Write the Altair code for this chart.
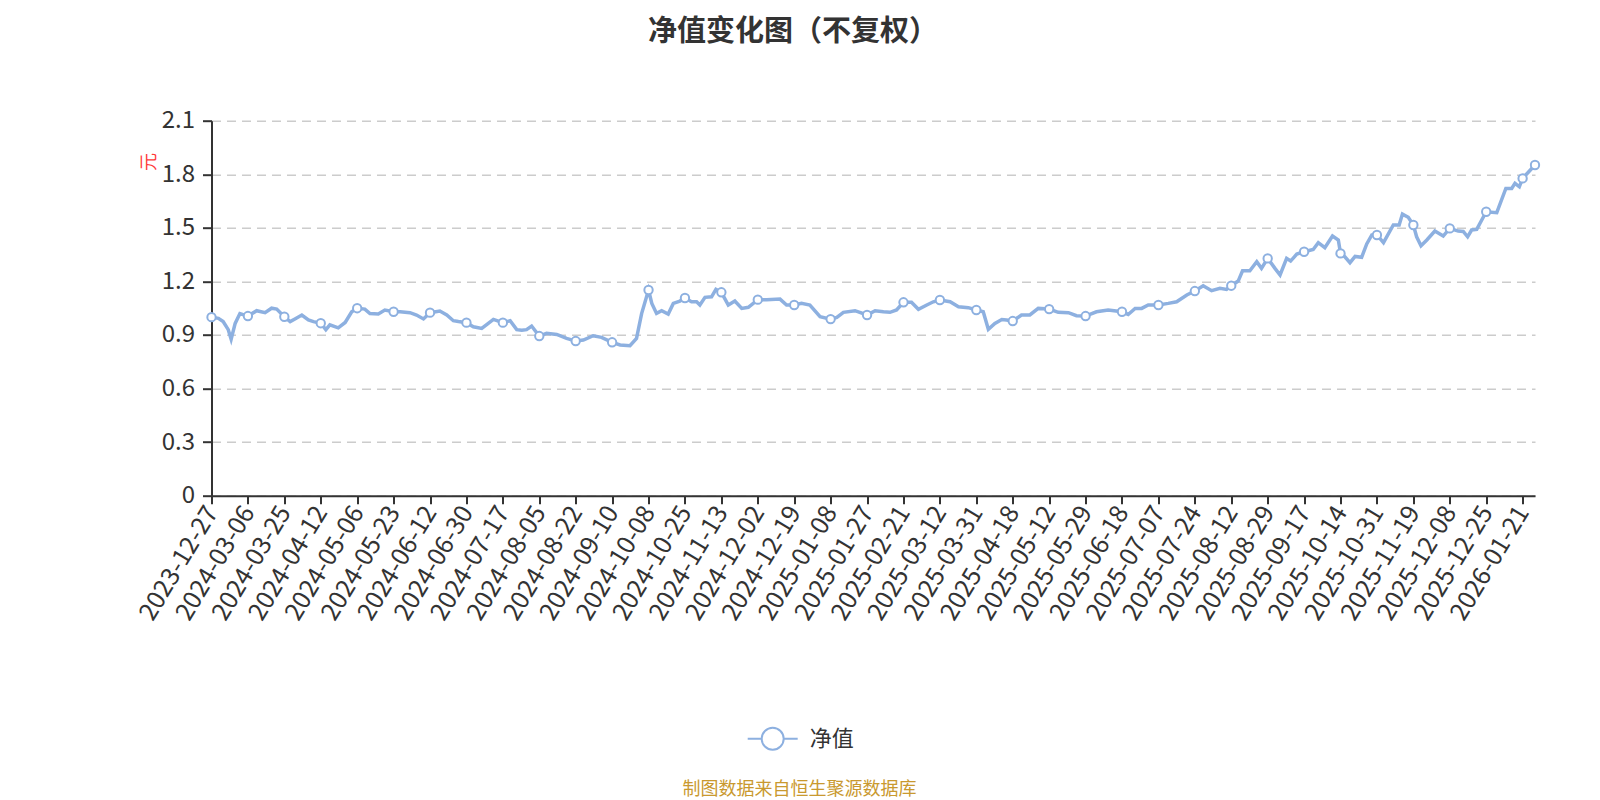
import altair as alt
import pandas as pd

FONT = "Noto Sans CJK SC"
BLUE = "#8db0e0"

date_labels = ["2023-12-27", "2024-03-06", "2024-03-25", "2024-04-12", "2024-05-06", "2024-05-23",
               "2024-06-12", "2024-06-30", "2024-07-17", "2024-08-05", "2024-08-22", "2024-09-10",
               "2024-10-08", "2024-10-25", "2024-11-13", "2024-12-02", "2024-12-19", "2025-01-08",
               "2025-01-27", "2025-02-21", "2025-03-12", "2025-03-31", "2025-04-18", "2025-05-12",
               "2025-05-29", "2025-06-18", "2025-07-07", "2025-07-24", "2025-08-12", "2025-08-29",
               "2025-09-17", "2025-10-14", "2025-10-31", "2025-11-19", "2025-12-08", "2025-12-25",
               "2026-01-21"]

# position along the category axis, in units of label intervals
pos = [0, 0.19, 0.32, 0.46, 0.54, 0.65, 0.78, 1, 1.24, 1.47, 1.65, 1.79, 2, 2.16, 2.29, 2.48, 2.66, 2.8,
       3, 3.14, 3.25, 3.48, 3.67, 3.85, 4, 4.21, 4.35, 4.58, 4.76, 5, 5.18, 5.45, 5.63, 5.82, 6, 6.27,
       6.46, 6.64, 6.78, 7, 7.19, 7.42, 7.6, 7.74, 8, 8.2, 8.38, 8.52, 8.65, 8.79, 9, 9.2, 9.48, 9.75,
       10, 10.21, 10.48, 10.71, 11, 11.22, 11.49, 11.67, 11.81, 12, 12.09, 12.22, 12.36, 12.54, 12.68,
       12.86, 13, 13.18, 13.32, 13.41, 13.55, 13.73, 13.85, 14, 14.19, 14.37, 14.56, 14.74, 15, 15.24,
       15.61, 15.79, 16, 16.2, 16.43, 16.71, 17, 17.17, 17.35, 17.67, 18, 18.22, 18.45, 18.63, 18.81,
       19, 19.22, 19.41, 19.64, 19.82, 20, 20.28, 20.51, 20.78, 21, 21.19, 21.33, 21.51, 21.7, 21.83,
       22, 22.24, 22.47, 22.7, 23, 23.25, 23.53, 23.75, 24, 24.3, 24.62, 25, 25.17, 25.36, 25.54,
       25.72, 26, 26.27, 26.5, 26.78, 27, 27.23, 27.46, 27.69, 27.87, 28, 28.19, 28.31, 28.51, 28.7,
       28.83, 29, 29.2, 29.34, 29.52, 29.63, 29.8, 30, 30.25, 30.39, 30.57, 30.78, 30.94, 31, 31.12,
       31.26, 31.4, 31.58, 31.72, 31.86, 32, 32.18, 32.45, 32.61, 32.7, 32.86, 33, 33.09, 33.21,
       33.37, 33.59, 33.82, 34, 34.23, 34.37, 34.49, 34.6, 34.74, 35, 35.29, 35.54, 35.7, 35.79,
       35.91, 36, 36.34]

nav = [1.00, 0.993, 0.975, 0.93, 0.876, 0.965, 1.02, 1.006, 1.036, 1.025, 1.05, 1.045, 1.002, 0.975,
       0.99, 1.012, 0.984, 0.975, 0.966, 0.93, 0.957, 0.94, 0.97, 1.03, 1.05, 1.045, 1.02, 1.018,
       1.04, 1.03, 1.03, 1.025, 1.012, 0.99, 1.025, 1.034, 1.012, 0.98, 0.975, 0.969, 0.946, 0.937,
       0.965, 0.987, 0.969, 0.98, 0.93, 0.927, 0.93, 0.95, 0.894, 0.909, 0.903, 0.881, 0.866, 0.872,
       0.896, 0.887, 0.859, 0.844, 0.84, 0.881, 1.02, 1.152, 1.077, 1.021, 1.036, 1.017, 1.077, 1.09,
       1.107, 1.086, 1.086, 1.068, 1.111, 1.114, 1.156, 1.139, 1.068, 1.09, 1.049, 1.055, 1.098, 1.098,
       1.101, 1.068, 1.068, 1.077, 1.068, 1.003, 0.989, 0.998, 1.027, 1.036, 1.012, 1.036, 1.03, 1.027,
       1.04, 1.083, 1.083, 1.044, 1.068, 1.086, 1.096, 1.086, 1.058, 1.053, 1.04, 1.03, 0.932, 0.965,
       0.987, 0.984, 0.978, 1.012, 1.012, 1.049, 1.045, 1.027, 1.025, 1.008, 1.006, 1.03, 1.04, 1.03,
       1.015, 1.049, 1.049, 1.068, 1.068, 1.077, 1.086, 1.124, 1.146, 1.176, 1.148, 1.161, 1.155, 1.176,
       1.202, 1.26, 1.26, 1.31, 1.273, 1.329, 1.273, 1.236, 1.329, 1.314, 1.353, 1.366, 1.379, 1.417,
       1.389, 1.454, 1.432, 1.357, 1.338, 1.305, 1.34, 1.335, 1.41, 1.46, 1.46, 1.417, 1.516, 1.516,
       1.577, 1.559, 1.516, 1.45, 1.40, 1.432, 1.482, 1.454, 1.497, 1.482, 1.48, 1.45, 1.488, 1.491,
       1.59, 1.585, 1.721, 1.721, 1.749, 1.73, 1.777, 1.852]

y_ticks = [0, 0.3, 0.6, 0.9, 1.2, 1.5, 1.8, 2.1]
series_name = "净值"

df = pd.DataFrame({"pos": pos, "nav": nav, "series": series_name})
last_pos = pos[-1]

label_js = "[" + ",".join("'" + d + "'" for d in date_labels) + "]"

W, H = 1323.5, 375
PAD_L, PAD_T = 203.5, 112.7

legend_path = ("M-1,0H-0.44M0.44,0H1M-0.44,0A0.44,0.44,0,1,1,0.44,0"
               "A0.44,0.44,0,1,1,-0.44,0Z")

x_enc = alt.X(
    "pos:Q",
    scale=alt.Scale(domain=[0, last_pos], nice=False, zero=False),
    axis=alt.Axis(
        values=list(range(len(date_labels))),
        labelExpr=label_js + "[round(datum.value)]",
        labelAngle=-59, labelAlign="right", labelBaseline="middle",
        labelFontSize=25, labelFont=FONT, labelColor="#333", labelPadding=4,
        labelOverlap=False, labelFlush=False,
        tickSize=8, tickWidth=2, tickColor="#333",
        domainColor="#333", domainWidth=2, grid=False,
        title="制图数据来自恒生聚源数据库",
        titleX=799 - 211.5, titleY=789 - 495.7, titleAlign="center", titleBaseline="middle",
        titleFont=FONT, titleFontSize=18, titleFontWeight="normal", titleColor="#c9992f",
    ),
)

y_enc = alt.Y(
    "nav:Q",
    scale=alt.Scale(domain=[0, 2.1], nice=False, zero=True),
    axis=alt.Axis(
        values=y_ticks,
        labelExpr="datum.value == 0 ? '0' : format(datum.value, '.1f')",
        labelFontSize=24, labelFont=FONT, labelColor="#333", labelPadding=8,
        tickSize=9, tickWidth=2, tickColor="#333",
        domainColor="#333", domainWidth=2,
        grid=True, gridColor="#cccccc", gridDash=[9, 6], gridWidth=1.5,
        title="元",
        titleX=149 - 211.5, titleY=161.5 - 120.7, titleAngle=270,
        titleAlign="center", titleBaseline="middle",
        titleFont=FONT, titleFontSize=18, titleFontWeight="normal", titleColor="#ff3b3b",
    ),
)

base = alt.Chart(df).encode(x=x_enc, y=y_enc)

line = base.mark_line(strokeWidth=3.5).encode(
    color=alt.Color(
        "series:N",
        scale=alt.Scale(range=[BLUE]),
        legend=alt.Legend(
            orient="none", legendX=746.7 - 211.5, legendY=737.7 - 25 - 120.7,
            title=None, symbolType=legend_path, symbolSize=2500, symbolStrokeWidth=2,
            symbolFillColor="#ffffff", symbolStrokeColor=BLUE,
            labelFont=FONT, labelFontSize=22, labelColor="#333", labelOffset=11, padding=0,
        ),
    )
)

marker_filter = "datum.pos % 1 == 0 || datum.pos == " + str(last_pos)
points = base.transform_filter(marker_filter).mark_point(
    filled=True, fill="#ffffff", stroke=BLUE, strokeWidth=2, size=70, opacity=1
)

chart = (
    alt.layer(line, points)
    .properties(
        width=W, height=H,
        padding={"left": PAD_L, "top": PAD_T, "right": 1584 - PAD_L - W, "bottom": 800 - PAD_T - H},
        autosize=alt.AutoSizeParams(type="none"),
        title=alt.TitleParams(
            "净值变化图（不复权）", font=FONT, fontSize=29, fontWeight="bold", color="#333",
            anchor="middle", frame="group", dx=793 - (211.5 + W / 2), offset=48, baseline="middle",
        ),
    )
    .configure_view(stroke=None)
)

chart.save("out.html", embed_options={"renderer": "svg", "actions": False})
